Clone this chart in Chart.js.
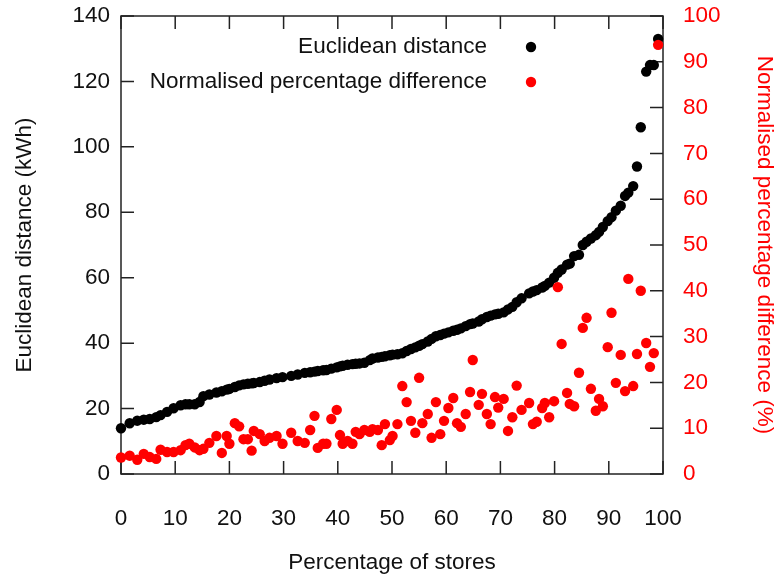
<!DOCTYPE html>
<html>
<head>
<meta charset="utf-8">
<script src="https://cdn.jsdelivr.net/npm/chart.js@4.4.1/dist/chart.umd.min.js"></script>
<style>
  html, body { margin: 0; padding: 0; background: #fff; }
  #wrap { width: 779px; height: 577px; }
</style>
</head>
<body>
<div id="wrap"><canvas id="storeChart" width="779" height="577"></canvas></div>
<script>
// store rank as a percentage of all stores
const storePct = [
  0, 1.6, 3.0, 4.2, 5.3, 6.5, 7.3, 8.5, 9.7, 11.0, 11.9, 12.6, 13.6, 14.5, 15.2,
  16.3, 17.6, 18.6, 19.5, 20.0, 21.0, 21.8, 22.6, 23.4, 24.1, 24.5, 25.6, 26.5,
  27.4, 28.7, 29.8, 31.4, 32.6, 33.9, 34.9, 35.7, 36.3, 37.3, 37.9, 38.8, 39.8,
  40.4, 40.9, 41.8, 42.7, 43.3, 44.0, 44.9, 45.9, 46.4, 47.4, 48.1, 48.7, 49.6,
  50.1, 51.0, 51.9, 52.7, 53.5, 54.3, 55.0, 55.6, 56.6, 57.3, 58.1, 58.9, 59.6,
  60.4, 61.3, 62.0, 62.7, 63.6, 64.4, 64.9, 66.0, 66.6, 67.5, 68.2, 69.0, 69.6,
  70.6, 71.4, 72.2, 73.0, 73.9, 75.3, 76.0, 76.7, 77.7, 78.2, 79.0, 79.9, 80.6,
  81.3, 82.3, 82.8, 83.6, 84.5, 85.2, 85.9, 86.7, 87.6, 88.2, 88.9, 89.8, 90.5,
  91.3, 92.2, 93.0, 93.6, 94.5, 95.2, 95.9, 96.9, 97.6, 98.3, 99.1
];

// Euclidean distance per store (kWh), sorted
const euclideanKWh = [
  14.0, 15.5, 16.3, 16.6, 16.8, 17.4, 18.0, 19.0, 20.1, 21.0, 21.3, 21.3, 21.3, 22.0, 23.8,
  24.3, 24.9, 25.3, 25.8, 26.0, 26.6, 27.1, 27.4, 27.6, 27.7, 27.8, 28.1, 28.5,
  28.9, 29.3, 29.6, 30.0, 30.4, 30.9, 31.1, 31.3, 31.5, 31.7, 31.8, 32.2, 32.6,
  32.9, 33.1, 33.4, 33.6, 33.7, 33.8, 34.0, 34.8, 35.3, 35.6, 35.8, 36.0, 36.3,
  36.5, 36.6, 36.9, 37.6, 38.2, 38.7, 39.2, 39.7, 40.5, 41.3, 42.1, 42.5, 42.9,
  43.3, 43.8, 44.1, 44.5, 45.2, 45.8, 46.0, 46.6, 47.3, 48.0, 48.4, 48.8, 49.0,
  49.4, 50.3, 51.1, 52.5, 53.7, 55.2, 55.8, 56.2, 57.0, 57.5, 58.5, 60.0, 61.5,
  62.5, 64.0, 64.3, 66.6, 67.0, 70.0, 71.0, 72.0, 73.0, 74.0, 75.5, 77.3, 78.5,
  80.5, 82.0, 85.0, 86.0, 88.0, 94.0, 106.0, 123.0, 125.0, 125.0, 133.0
];

// normalised percentage difference per store (%)
const normDiffPct = [
  3.6, 4.0, 3.1, 4.4, 3.7, 3.3, 5.3, 4.8, 4.8, 5.2, 6.3, 6.6, 5.8, 5.2, 5.5,
  6.8, 8.3, 4.6, 8.3, 6.6, 11.1, 10.4, 7.6, 7.6, 5.1, 9.4, 8.7, 7.2,
  7.9, 8.3, 6.6, 9.0, 7.2, 6.8, 9.6, 12.7, 5.7, 6.6, 6.6, 12.0, 14.0,
  8.5, 6.6, 7.2, 6.6, 9.2, 8.7, 9.6, 9.2, 9.8, 9.6, 6.3, 10.9, 7.4,
  8.3, 10.9, 19.2, 15.7, 11.6, 9.0, 21.0, 11.1, 13.1, 7.9, 15.7, 8.7, 11.6,
  14.4, 16.6, 11.1, 10.3, 13.1, 17.9, 24.9, 15.1, 17.5, 13.1, 10.9, 16.8, 14.5,
  16.4, 9.4, 12.4, 19.3, 14.0, 15.5, 10.9, 11.4, 14.4, 15.5, 12.4, 15.9, 40.8,
  28.4, 17.7, 15.3, 14.8, 22.1, 31.9, 34.1, 18.6, 13.8, 16.4, 14.8, 27.7, 35.2,
  19.9, 26.0, 18.1, 42.6, 19.2, 26.2, 40.0, 28.6, 23.4, 26.4, 93.7
];

const legendLabels = ['Euclidean distance', 'Normalised percentage difference'];
const RED = '#ff0000';
const FONT = '"Liberation Sans", Arial, sans-serif';
const FSIZE = 22.5;

const toPoints = (vals) => vals.map((v, i) => ({ x: storePct[i], y: v }));

// invisible outside ticks only push the y labels away from the frame
const spacerGrid = (len) => ({
  display: true,
  drawOnChartArea: false,
  drawTicks: true,
  tickLength: len,
  color: 'rgba(0,0,0,0)'
});

// box around the plot with inward ticks and the legend in the top right
const framePlugin = {
  id: 'frame',
  beforeDatasetsDraw(chart) {
    const { ctx, chartArea: a, scales } = chart;
    const tl = 13;
    ctx.save();
    ctx.strokeStyle = '#222';
    ctx.lineWidth = 1.5;
    ctx.strokeRect(a.left, a.top, a.right - a.left, a.bottom - a.top);
    ctx.beginPath();
    scales.x.ticks.forEach(t => {
      const px = scales.x.getPixelForValue(t.value);
      ctx.moveTo(px, a.bottom); ctx.lineTo(px, a.bottom - tl);
      ctx.moveTo(px, a.top); ctx.lineTo(px, a.top + tl);
    });
    scales.y.ticks.forEach(t => {
      const py = scales.y.getPixelForValue(t.value);
      ctx.moveTo(a.left, py); ctx.lineTo(a.left + tl, py);
    });
    scales.y1.ticks.forEach(t => {
      const py = scales.y1.getPixelForValue(t.value);
      ctx.moveTo(a.right, py); ctx.lineTo(a.right - tl, py);
    });
    ctx.stroke();
    ctx.restore();
  },
  afterDraw(chart) {
    const { ctx } = chart;
    const colors = ['#000', RED];
    ctx.save();
    ctx.font = FSIZE + 'px ' + FONT;
    ctx.textAlign = 'right';
    ctx.textBaseline = 'middle';
    legendLabels.forEach((txt, i) => {
      const y = 47 + i * 35;
      ctx.fillStyle = '#111';
      ctx.fillText(txt, 487, y);
      ctx.fillStyle = colors[i];
      ctx.beginPath();
      ctx.arc(531, y, 5.2, 0, Math.PI * 2);
      ctx.fill();
    });
    ctx.restore();
  }
};

new Chart(document.getElementById('storeChart'), {
  type: 'scatter',
  data: {
    datasets: [
      {
        label: legendLabels[0],
        data: toPoints(euclideanKWh),
        yAxisID: 'y',
        backgroundColor: '#000',
        borderWidth: 0,
        pointRadius: 5.2,
        clip: false,
        order: 1
      },
      {
        label: legendLabels[1],
        data: toPoints(normDiffPct),
        yAxisID: 'y1',
        backgroundColor: RED,
        borderWidth: 0,
        pointRadius: 5.2,
        clip: false,
        order: 0
      }
    ]
  },
  options: {
    responsive: false,
    animation: false,
    layout: { autoPadding: false, padding: { top: 16, left: 0, right: 0, bottom: 0 } },
    plugins: {
      legend: { display: false },
      tooltip: { enabled: false }
    },
    scales: {
      x: {
        type: 'linear',
        min: 0,
        max: 100,
        afterFit: (s) => { s.height = 103; },
        grid: { display: false },
        border: { display: false },
        ticks: { stepSize: 10, padding: 23, color: '#111', font: { family: FONT, size: FSIZE } },
        title: {
          display: true,
          text: 'Percentage of stores',
          color: '#111',
          padding: { top: 0, bottom: 1 },
          font: { family: FONT, size: FSIZE }
        }
      },
      y: {
        position: 'left',
        min: 0,
        max: 140,
        afterFit: (s) => { s.width = 121; },
        grid: spacerGrid(11),
        border: { display: false },
        ticks: { stepSize: 20, padding: 0, color: '#111', font: { family: FONT, size: FSIZE } },
        title: {
          display: true,
          text: 'Euclidean distance (kWh)',
          color: '#111',
          padding: { top: 11, bottom: 0 },
          font: { family: FONT, size: FSIZE }
        }
      },
      y1: {
        position: 'right',
        min: 0,
        max: 100,
        afterFit: (s) => { s.width = 116; },
        grid: spacerGrid(20),
        border: { display: false },
        ticks: { stepSize: 10, padding: 0, color: RED, font: { family: FONT, size: FSIZE } },
        title: {
          display: true,
          text: 'Normalised percentage difference (%)',
          color: RED,
          padding: { top: 1, bottom: 0 },
          font: { family: FONT, size: FSIZE }
        }
      }
    }
  },
  plugins: [framePlugin]
});
</script>
</body>
</html>
